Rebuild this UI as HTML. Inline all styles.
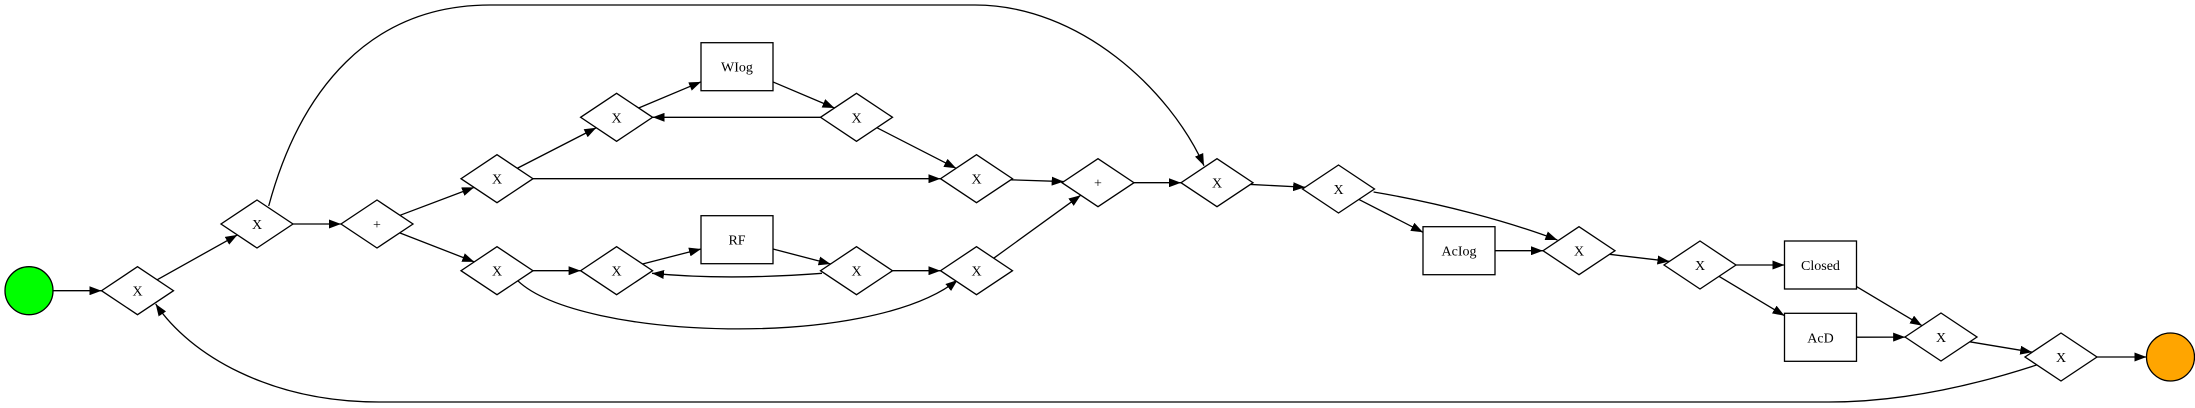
<!DOCTYPE html>
<html><head><meta charset="utf-8"><style>
html,body{margin:0;padding:0;background:#fff;}
svg{display:block;}
text{font-family:"Liberation Serif",serif;font-size:14px;fill:#000;}
</style></head><body>
<svg id="g" width="2195" height="408" viewBox="0 0 2195 408" xmlns="http://www.w3.org/2000/svg">
<defs><marker id="ah" markerUnits="userSpaceOnUse" markerWidth="12" markerHeight="9" refX="12" refY="4.5" orient="auto"><path d="M0,0 L12,4.5 L0,9 z" fill="#000"/></marker></defs>
<g id="edges"></g><g id="nodes"></g>
</svg>
<script>
const nodeIds=["start","g1","g2","g3","g4","g5","g6","wiog","g7","g8","rf","g9","g10","g11","g12","g13","g14","aciog","g15","g16","closed","acd","g17","g18","end"];
const nodeTypes=["start","x","x","plus","x","x","x","task","x","x","task","x","x","x","plus","x","x","task","x","x","task","task","x","x","end"];
const nodeLabels=["","X","X","+","X","X","X","WIog","X","X","RF","X","X","X","+","X","X","AcIog","X","X","Closed","AcD","X","X",""];
const nodeX=[29,137.5,257,377,497,497,616.6,737,856.5,976.5,737,616.6,856.5,976.5,1098,1217,1338.5,1459,1579,1700,1820.5,1820.5,1941,2061,2170.5];
const nodeY=[290.7,290.7,224,224,178.7,270.7,117.3,66.7,117.3,178.7,239.7,270.7,270.7,270.7,182.7,182.7,189,250.7,250.7,265,265,337.3,337,357,357];
const straightEdges=[["start","g1"],["g1","g2"],["g2","g3"],["g3","g4"],["g3","g5"],["g4","g6"],["g4","g8"],["g6","wiog"],["wiog","g7"],["g7","g6"],["g7","g8"],["g5","g9"],["g9","rf"],["rf","g10"],["g10","g11"],["g8","g12"],["g11","g12"],["g12","g13"],["g13","g14"],["g14","aciog"],["aciog","g15"],["g15","g16"],["g16","closed"],["g16","acd"],["closed","g17"],["acd","g17"],["g17","g18"],["g18","end"]];
const curveEdges=[
 ["g2-to-g13-loop","M268.7,206 C300,90 370,5 490,5 L975,5 C1080,5 1170,90 1204,165.7"],
 ["g18-to-g1-loop","M2036.5,365 C1960,390 1890,402 1829,402 L379,402 C270,402 190,355 155.7,304"],
 ["g5-to-g11-bypass","M517.7,280.7 C580,340 870,350 957.6,280"],
 ["g10-to-g9-back","M822,273.3 C760,278 700,278 652,273.3"],
 ["g14-to-g15-curve","M1373.6,192 C1440,203 1510,222 1557.4,240"]
];
const NS="http://www.w3.org/2000/svg";
const A=36,B=24;
const idx=id=>nodeIds.indexOf(id);
function bound(i,dx,dy){
 const t=nodeTypes[i];const L=Math.hypot(dx,dy);const ux=dx/L,uy=dy/L;let s;
 if(t==="start"||t==="end")s=24;
 else if(t==="task")s=Math.min(A/Math.abs(ux||1e-9),B/Math.abs(uy||1e-9));
 else s=1/(Math.abs(ux)/A+Math.abs(uy)/B);
 return [nodeX[i]+ux*s,nodeY[i]+uy*s];
}
const eg=document.getElementById('edges');
straightEdges.forEach(e=>{
 const a=idx(e[0]),b=idx(e[1]);const dx=nodeX[b]-nodeX[a],dy=nodeY[b]-nodeY[a];
 const p=bound(a,dx,dy),q=bound(b,-dx,-dy);
 const l=document.createElementNS(NS,'line');
 l.setAttribute('x1',p[0]);l.setAttribute('y1',p[1]);l.setAttribute('x2',q[0]);l.setAttribute('y2',q[1]);
 l.setAttribute('stroke','#000');l.setAttribute('stroke-width','1.3');l.setAttribute('marker-end','url(#ah)');
 
 
 eg.appendChild(l);
});
curveEdges.forEach(c=>{
 const p=document.createElementNS(NS,'path');
 p.setAttribute('d',c[1]);p.setAttribute('fill','none');p.setAttribute('stroke','#000');p.setAttribute('stroke-width','1.3');p.setAttribute('marker-end','url(#ah)');
 
 
 eg.appendChild(p);
});
const ng=document.getElementById('nodes');
nodeIds.forEach((id,i)=>{
 const t=nodeTypes[i],x=nodeX[i],y=nodeY[i];
 const g=document.createElementNS(NS,'g');
 
 
 let s;
 if(t==="start"||t==="end"){s=document.createElementNS(NS,'circle');s.setAttribute('cx',x);s.setAttribute('cy',y);s.setAttribute('r',24);s.setAttribute('fill',t==="start"?'#00ff00':'#ffa500');}
 else if(t==="task"){s=document.createElementNS(NS,'rect');s.setAttribute('x',x-A);s.setAttribute('y',y-B);s.setAttribute('width',2*A);s.setAttribute('height',2*B);s.setAttribute('fill','#fff');}
 else{s=document.createElementNS(NS,'polygon');s.setAttribute('points',`${x},${y-B} ${x+A},${y} ${x},${y+B} ${x-A},${y}`);s.setAttribute('fill','#fff');}
 s.setAttribute('stroke','#000');s.setAttribute('stroke-width','1.3');
 g.appendChild(s);
 if(nodeLabels[i]){const tx=document.createElementNS(NS,'text');tx.setAttribute('x',x);tx.setAttribute('y',y+5);tx.setAttribute('text-anchor','middle');tx.textContent=nodeLabels[i];g.appendChild(tx);}
 ng.appendChild(g);
});
</script>
</body></html>
